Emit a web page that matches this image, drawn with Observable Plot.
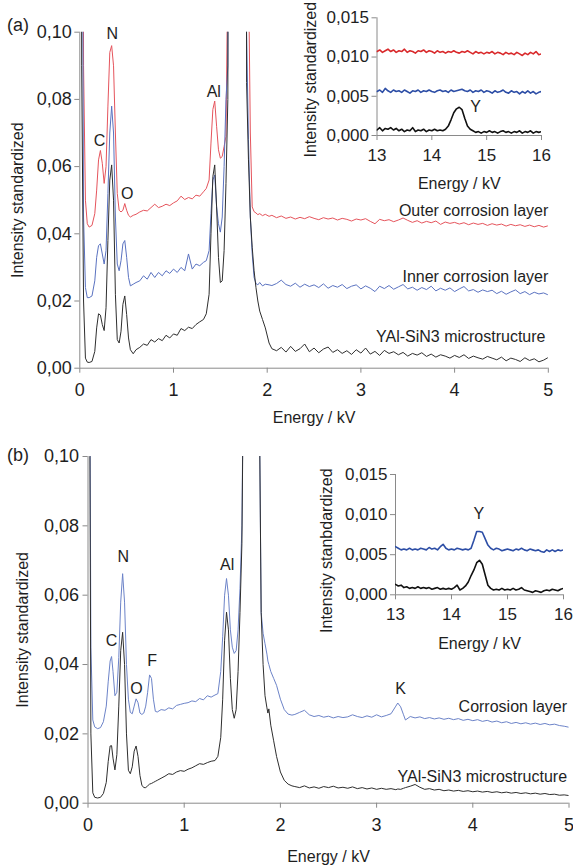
<!DOCTYPE html>
<html><head><meta charset="utf-8">
<script src="https://cdn.jsdelivr.net/npm/d3@7"></script>
<script src="https://cdn.jsdelivr.net/npm/@observablehq/plot@0.6"></script>
<style>
body{margin:0;background:#fff;}
#wrap{position:relative;width:573px;height:865px;overflow:hidden;background:#fff;}
</style></head><body><div id="wrap"></div>
<script>
// ---------- Panel (a) main spectrum ----------
const energyA = [0.00,0.02,0.04,0.06,0.08,0.10,0.13,0.16,0.18,0.20,0.22,0.24,0.26,0.28,0.30,0.32,0.34,0.36,0.38,0.40,0.42,0.44,0.46,0.48,0.50,0.52,0.54,0.57,0.60,0.64,0.68,0.72,0.76,0.80,0.84,0.88,0.92,0.96,1.00,1.04,1.08,1.12,1.16,1.20,1.24,1.28,1.32,1.35,1.38,1.40,1.42,1.44,1.46,1.48,1.50,1.52,1.54,1.56,1.58,1.60,1.68,1.76,1.78,1.80,1.82,1.84,1.86,1.88,1.90,1.92,1.95,1.98,2.02,
2.05,2.10,2.15,2.20,2.25,2.30,2.35,2.40,2.45,2.50,2.55,2.60,2.65,2.70,2.75,2.80,2.85,2.90,2.95,3.00,3.05,3.10,3.15,3.20,3.25,3.30,3.35,3.40,3.45,3.50,3.55,3.60,3.65,3.70,3.75,3.80,3.85,3.90,3.95,4.00,4.05,4.10,4.15,4.20,4.25,4.30,4.35,4.40,4.45,4.50,4.55,4.60,4.65,4.70,4.75,4.80,4.85,4.90,4.95,5.00];

const outerA = [0.5,0.5,0.09,0.05,0.043,0.042,0.0425,0.046,0.053,0.062,0.0648,0.061,0.055,0.06,0.078,0.094,0.096,0.09,0.07,0.052,0.047,0.0465,0.047,0.049,0.047,0.0455,0.045,0.0455,0.0458,0.0465,0.047,0.0468,0.0478,0.0488,0.0478,0.0482,0.0488,0.0484,0.0492,0.0498,0.0512,0.0502,0.0508,0.0504,0.0515,0.0512,0.0525,0.0535,0.056,0.067,0.077,0.0795,0.072,0.065,0.0625,0.063,0.066,0.069,0.12,0.5,0.5,0.5,0.3,0.12,0.07,0.048,0.0466,0.0462,0.0457,0.046,0.0454,0.0458,0.0452,
0.0455,0.0448,0.0453,0.0446,0.0450,0.0444,0.0449,0.0445,0.0451,0.0446,0.0442,0.0448,0.0444,0.0447,0.0441,0.0446,0.0443,0.0438,0.0444,0.0441,0.0445,0.0437,0.0430,0.0443,0.0439,0.0442,0.0436,0.0441,0.0447,0.0440,0.0434,0.0439,0.0432,0.0437,0.0433,0.0438,0.0428,0.0435,0.0431,0.0434,0.0429,0.0433,0.0427,0.0432,0.0428,0.0431,0.0425,0.0430,0.0426,0.0429,0.0423,0.0428,0.0424,0.0427,0.0422,0.0426,0.0421,0.0425,0.0420,0.0424];

const innerA = [0.5,0.2,0.045,0.024,0.021,0.021,0.0215,0.026,0.033,0.0365,0.037,0.034,0.031,0.035,0.052,0.07,0.078,0.07,0.045,0.031,0.029,0.032,0.037,0.038,0.033,0.027,0.0245,0.025,0.0255,0.026,0.0275,0.0265,0.0285,0.027,0.0285,0.0275,0.029,0.0282,0.0295,0.0285,0.03,0.029,0.034,0.0295,0.031,0.0305,0.0315,0.032,0.035,0.046,0.056,0.0575,0.048,0.043,0.0405,0.045,0.06,0.08,0.09,0.5,0.5,0.5,0.1,0.068,0.045,0.034,0.027,0.0252,0.0248,0.0255,0.0245,0.025,0.0248,
0.0246,0.0252,0.0262,0.0249,0.0244,0.0253,0.0241,0.0250,0.0243,0.0248,0.0240,0.0251,0.0238,0.0246,0.0241,0.0249,0.0237,0.0244,0.0248,0.0236,0.0245,0.0238,0.0228,0.0244,0.0237,0.0246,0.0235,0.0242,0.0249,0.0236,0.0241,0.0232,0.0240,0.0234,0.0244,0.0230,0.0238,0.0232,0.0239,0.0228,0.0236,0.0243,0.0230,0.0234,0.0226,0.0233,0.0228,0.0232,0.0222,0.0229,0.0220,0.0227,0.0233,0.0222,0.0228,0.0219,0.0226,0.0221,0.0224,0.0218];

const bulkA = [0.5,0.09,0.02,0.003,0.0018,0.0017,0.002,0.005,0.012,0.0162,0.0158,0.013,0.0112,0.018,0.038,0.056,0.0605,0.05,0.022,0.0085,0.0075,0.011,0.019,0.0215,0.016,0.009,0.0055,0.0043,0.0055,0.0062,0.0072,0.0068,0.0085,0.0078,0.0088,0.0082,0.0098,0.009,0.0102,0.0098,0.0118,0.0112,0.0122,0.0118,0.013,0.0138,0.0145,0.0162,0.022,0.04,0.057,0.0605,0.048,0.033,0.0255,0.026,0.035,0.055,0.08,0.5,0.5,0.5,0.085,0.062,0.045,0.036,0.029,0.024,0.02,0.017,0.0145,0.012,0.0075,
0.0058,0.0052,0.0062,0.0048,0.0065,0.0050,0.0058,0.0072,0.0049,0.0060,0.0046,0.0057,0.0063,0.0047,0.0055,0.0044,0.0052,0.0041,0.0055,0.0045,0.0060,0.0042,0.0050,0.0038,0.0053,0.0044,0.0049,0.0040,0.0047,0.0036,0.0044,0.0039,0.0046,0.0035,0.0042,0.0033,0.0040,0.0036,0.0030,0.0038,0.0032,0.0040,0.0029,0.0036,0.0031,0.0027,0.0035,0.0030,0.0025,0.0033,0.0022,0.0030,0.0026,0.0020,0.0031,0.0023,0.0028,0.0019,0.0024,0.0032];

const elementsA = ["C","N","O","Al"];
const elementEnergyA = [0.21,0.346,0.505,1.43];
const elementIntensityA = [0.0678,0.0996,0.0519,0.0821];
const namesA = ["Outer corrosion layer","Inner corrosion layer","YAl-SiN3 microstructure"];
const nameEnergyA = [5.0,5.0,4.97];
const nameIntensityA = [0.0469,0.0271,0.0092];

// ---------- Insets (13–16 kV) ----------
const insetEnergy = [13.00,13.05,13.10,13.15,13.20,13.25,13.30,13.35,13.40,13.45,13.50,13.55,13.60,13.65,13.70,13.75,13.80,13.85,13.90,13.95,14.00,14.05,14.10,14.15,14.20,14.25,14.30,14.35,14.40,14.45,14.50,14.55,14.60,14.65,14.70,14.75,14.80,14.85,14.90,14.95,15.00,15.05,15.10,15.15,15.20,15.25,15.30,15.35,15.40,15.45,15.50,15.55,15.60,15.65,15.70,15.75,15.80,15.85,15.90,15.95,16.00];

const outerInsetA = [0.0107,0.0109,0.0106,0.0108,0.0110,0.0107,0.0109,0.0106,0.0108,0.0107,0.0110,0.0106,0.0108,0.0107,0.0105,0.0108,0.0107,0.0109,0.0106,0.0108,0.0107,0.0105,0.0108,0.0106,0.0107,0.0105,0.0107,0.0106,0.0108,0.0106,0.0105,0.0107,0.0106,0.0108,0.0106,0.0104,0.0107,0.0105,0.0106,0.0104,0.0106,0.0105,0.0107,0.0104,0.0106,0.0105,0.0103,0.0106,0.0104,0.0105,0.0103,0.0106,0.0104,0.0102,0.0105,0.0103,0.0106,0.0104,0.0107,0.0103,0.0104];
const innerInsetA = [0.0056,0.0058,0.0055,0.0060,0.0057,0.0055,0.0058,0.0056,0.0057,0.0055,0.0058,0.0056,0.0054,0.0057,0.0056,0.0058,0.0055,0.0057,0.0056,0.0058,0.0056,0.0055,0.0057,0.0058,0.0056,0.0057,0.0055,0.0058,0.0056,0.0057,0.0058,0.0059,0.0057,0.0056,0.0058,0.0055,0.0057,0.0056,0.0058,0.0055,0.0057,0.0056,0.0054,0.0057,0.0055,0.0056,0.0058,0.0055,0.0054,0.0057,0.0055,0.0056,0.0053,0.0056,0.0054,0.0057,0.0054,0.0056,0.0053,0.0055,0.0056];
const bulkInsetA = [0.0007,0.0010,0.0006,0.0009,0.0008,0.0010,0.0007,0.0009,0.0006,0.0008,0.0005,0.0007,0.0006,0.0010,0.0005,0.0007,0.0006,0.0008,0.0005,0.0007,0.0006,0.0008,0.0006,0.0007,0.0006,0.0008,0.0012,0.0020,0.0029,0.0034,0.0036,0.0033,0.0022,0.0012,0.0008,0.0006,0.0004,0.0005,0.0003,0.0005,0.0004,0.0006,0.0004,0.0005,0.0003,0.0005,0.0006,0.0004,0.0005,0.0003,0.0005,0.0004,0.0006,0.0003,0.0005,0.0004,0.0006,0.0003,0.0005,0.0004,0.0005];

const corrInsetB = [0.0060,0.0058,0.0056,0.0057,0.0056,0.0058,0.0056,0.0057,0.0056,0.0058,0.0057,0.0056,0.0059,0.0057,0.0058,0.0056,0.0060,0.0063,0.0058,0.0056,0.0057,0.0056,0.0058,0.0057,0.0056,0.0057,0.0056,0.0058,0.0068,0.0079,0.0079,0.0078,0.0070,0.0062,0.0058,0.0056,0.0058,0.0057,0.0055,0.0056,0.0057,0.0056,0.0055,0.0057,0.0056,0.0058,0.0056,0.0055,0.0057,0.0056,0.0055,0.0056,0.0054,0.0053,0.0056,0.0054,0.0056,0.0054,0.0056,0.0055,0.0056];
const bulkInsetB = [0.0013,0.0011,0.0012,0.0009,0.0010,0.0008,0.0009,0.0008,0.0010,0.0008,0.0009,0.0008,0.0009,0.0007,0.0008,0.0009,0.0007,0.0008,0.0007,0.0008,0.0007,0.0009,0.0012,0.0006,0.0008,0.0011,0.0016,0.0024,0.0031,0.0040,0.0043,0.0038,0.0025,0.0012,0.0008,0.0006,0.0007,0.0006,0.0008,0.0006,0.0007,0.0006,0.0008,0.0006,0.0007,0.0009,0.0006,0.0005,0.0004,0.0003,0.0005,0.0004,0.0003,0.0005,0.0006,0.0005,0.0007,0.0006,0.0005,0.0007,0.0008];

// ---------- Panel (b) main spectrum ----------
const energyB = [0.00,0.02,0.03,0.05,0.07,0.10,0.13,0.16,0.19,0.21,0.23,0.245,0.26,0.28,0.30,0.32,0.34,0.36,0.38,0.40,0.42,0.44,0.46,0.48,0.50,0.52,0.54,0.56,0.58,0.60,0.62,0.64,0.66,0.68,0.70,0.72,0.76,0.80,0.84,0.88,0.92,0.96,1.00,1.04,1.08,1.12,1.16,1.20,1.24,1.28,1.32,1.35,1.38,1.40,1.42,1.44,1.46,1.48,1.50,1.52,1.54,1.56,1.58,1.60,1.62,1.70,1.78,1.80,1.82,1.84,1.86,1.87,1.88,1.90,1.93,1.96,2.00,2.04,2.08,2.12,
2.15,2.20,2.25,2.30,2.35,2.40,2.45,2.50,2.55,2.60,2.65,2.70,2.75,2.80,2.85,2.90,2.95,3.00,3.05,3.10,3.15,3.20,3.22,3.25,3.28,3.30,3.35,3.40,3.45,3.50,3.55,3.60,3.65,3.70,3.75,3.80,3.85,3.90,3.95,4.00,4.05,4.10,4.15,4.20,4.25,4.30,4.35,4.40,4.45,4.50,4.55,4.60,4.65,4.70,4.75,4.80,4.85,4.90,4.95,5.00];

const corrB = [0.5,0.12,0.045,0.024,0.022,0.0215,0.0218,0.0235,0.028,0.035,0.041,0.0423,0.038,0.031,0.032,0.042,0.058,0.0662,0.058,0.04,0.03,0.0262,0.0258,0.028,0.0301,0.029,0.026,0.0256,0.026,0.028,0.032,0.037,0.036,0.03,0.0265,0.0263,0.027,0.0268,0.0275,0.0272,0.0282,0.0285,0.0288,0.029,0.0295,0.0293,0.0302,0.0298,0.031,0.0306,0.0312,0.0316,0.038,0.048,0.06,0.0648,0.06,0.05,0.045,0.0432,0.044,0.05,0.062,0.08,0.14,0.5,0.12,0.055,0.049,0.046,0.043,0.041,0.04,0.038,0.036,0.034,0.03,0.027,0.0257,0.0254,
0.0256,0.0262,0.0268,0.0255,0.0250,0.0253,0.0248,0.0251,0.0246,0.0250,0.0247,0.0249,0.0255,0.0250,0.0247,0.0252,0.0248,0.0255,0.0249,0.0253,0.0258,0.0280,0.0289,0.0278,0.0255,0.0240,0.0250,0.0246,0.0249,0.0244,0.0247,0.0243,0.0246,0.0242,0.0245,0.0241,0.0244,0.0239,0.0242,0.0238,0.0241,0.0236,0.0239,0.0234,0.0237,0.0232,0.0235,0.0230,0.0233,0.0229,0.0232,0.0228,0.0231,0.0227,0.0230,0.0226,0.0228,0.0224,0.0222,0.0219];

const bulkB = [0.5,0.1,0.02,0.003,0.0017,0.0015,0.0017,0.0028,0.006,0.012,0.0165,0.0166,0.013,0.0096,0.014,0.028,0.044,0.0493,0.04,0.02,0.0095,0.0085,0.0105,0.015,0.0165,0.0135,0.008,0.0052,0.0045,0.0045,0.005,0.0055,0.0057,0.006,0.0063,0.0066,0.0072,0.0078,0.0085,0.0083,0.009,0.0094,0.0092,0.0098,0.0102,0.0108,0.0114,0.0112,0.0117,0.0121,0.0123,0.0135,0.019,0.03,0.047,0.0551,0.05,0.036,0.027,0.0245,0.027,0.038,0.055,0.075,0.14,0.5,0.12,0.055,0.04,0.031,0.0275,0.026,0.0272,0.0225,0.018,0.0135,0.009,0.0066,0.0055,0.005,
0.0048,0.0045,0.0050,0.0044,0.0047,0.0043,0.0048,0.0045,0.0049,0.0044,0.0046,0.0043,0.0047,0.0042,0.0045,0.0041,0.0044,0.0040,0.0043,0.0040,0.0042,0.0039,0.0041,0.0040,0.0043,0.0045,0.0049,0.0054,0.0046,0.0040,0.0042,0.0038,0.0040,0.0036,0.0038,0.0035,0.0037,0.0034,0.0036,0.0033,0.0035,0.0032,0.0034,0.0031,0.0033,0.0030,0.0032,0.0029,0.0031,0.0028,0.0030,0.0027,0.0029,0.0026,0.0028,0.0025,0.0026,0.0023,0.0024,0.0022];

const elementsB = ["C","N","O","F","Al","K"];
const elementEnergyB = [0.244,0.366,0.504,0.668,1.447,3.249];
const elementIntensityB = [0.0468,0.0710,0.0330,0.0410,0.0686,0.0330];
const namesB = ["Corrosion layer","YAl-SiN3 microstructure"];
const nameEnergyB = [4.98,4.98];
const nameIntensityB = [0.0277,0.0077];

// ---------- ticks ----------
const mainXTicks = [0,1,2,3,4,5];
const mainYTicks = [0,0.02,0.04,0.06,0.08,0.10];
const insetXTicks = [13,14,15,16];
const insetYTicks = [0,0.005,0.010,0.015];

// ---------- drawing ----------
const FONT = "'Liberation Sans', Arial, Helvetica, sans-serif";
const AXIS = "#8a8a8a", INK = "#1e1e1e";
const wrap = document.getElementById("wrap");

function rows(energy, values, name) {
  if (energy.length !== values.length) throw new Error(name + ": " + values.length + " values vs " + energy.length + " energies");
  return energy.map((e, i) => ({energy: e, intensity: values[i]}));
}
function pts(labels, es, is) { return labels.map((t, i) => ({t, energy: es[i], intensity: is[i]})); }
const comma = (n) => (d) => d.toFixed(n).replace(".", ",");

function place(svg, left, top) {
  svg.style.position = "absolute";
  svg.style.left = left + "px";
  svg.style.top = top + "px";
  svg.style.background = "transparent";
  svg.style.overflow = "visible";
  svg.style.maxWidth = "none";
  wrap.append(svg);
}

function axes(o) {
  return [
    Plot.ruleX([o.x0], {stroke: AXIS, strokeWidth: 1}),
    Plot.ruleY([0], {stroke: AXIS, strokeWidth: 1}),
    Plot.axisX({ticks: o.xt, tickFormat: d => String(d), tickSize: 5, tickPadding: o.xPad, stroke: AXIS, fill: INK, fontSize: o.fs, label: null}),
    Plot.axisY({ticks: o.yt, tickFormat: comma(o.dig), tickSize: 5, tickPadding: o.yPad, stroke: AXIS, fill: INK, fontSize: o.fs, label: null}),
    Plot.text([o.xTitle], {frameAnchor: "bottom", text: d => d, dy: o.xDy, lineAnchor: "middle", fontSize: 16, fill: INK}),
    Plot.text([o.yTitle], {frameAnchor: "left", text: d => d, rotate: -90, dx: o.yDx, dy: o.yDy || 0, lineAnchor: "middle", textAnchor: "middle", fontSize: 16, fill: INK})
  ];
}

// Panel (a) main
place(Plot.plot({
  width: 573, height: 430,
  marginLeft: 79.3, marginRight: 25.2, marginTop: 31.7, marginBottom: 62.3,
  x: {domain: [0, 5]}, y: {domain: [0, 0.1]},
  style: {fontFamily: FONT, fontSize: "17px", color: INK},
  marks: [
    ...axes({x0: 0, xt: mainXTicks, yt: mainYTicks, dig: 2, fs: 18, xPad: 10, yPad: 3, xTitle: "Energy / kV", xDy: 50, yTitle: "Intensity standardized", yDx: 17.5 - 79.3}),
    Plot.line(rows(energyA, outerA, "outerA"), {x: "energy", y: "intensity", stroke: "#e5545c", strokeWidth: 1, clip: true}),
    Plot.line(rows(energyA, innerA, "innerA"), {x: "energy", y: "intensity", stroke: "#5a72c0", strokeWidth: 1, clip: true}),
    Plot.line(rows(energyA, bulkA, "bulkA"), {x: "energy", y: "intensity", stroke: "#2e2e2e", strokeWidth: 1, clip: true}),
    Plot.text(pts(elementsA, elementEnergyA, elementIntensityA), {x: "energy", y: "intensity", text: "t", fontSize: 16, fill: INK}),
    Plot.text(pts(namesA, nameEnergyA, nameIntensityA), {x: "energy", y: "intensity", text: "t", textAnchor: "end", fontSize: 16, fill: INK}),
    Plot.text(["(a)"], {frameAnchor: "top-left", text: d => d, dx: 17.5 - 79.3, dy: 25 - 31.7, textAnchor: "middle", lineAnchor: "middle", fontSize: 18, fill: INK})
  ]
}), 0, 0);

// Panel (a) inset
place(Plot.plot({
  width: 283, height: 200,
  marginLeft: 86.5, marginRight: 32, marginTop: 17.3, marginBottom: 65,
  x: {domain: [13, 16]}, y: {domain: [0, 0.015]},
  style: {fontFamily: FONT, fontSize: "17px", color: INK},
  marks: [
    ...axes({x0: 13, xt: insetXTicks, yt: insetYTicks, dig: 3, fs: 17, xPad: 8, yPad: 3, xTitle: "Energy / kV", xDy: 48, yTitle: "Intensity standardized", yDx: 20 - 86.5, yDy: 3}),
    Plot.line(rows(insetEnergy, outerInsetA, "outerInsetA"), {x: "energy", y: "intensity", stroke: "#d9292b", strokeWidth: 1.6, clip: true}),
    Plot.line(rows(insetEnergy, innerInsetA, "innerInsetA"), {x: "energy", y: "intensity", stroke: "#2d4ea6", strokeWidth: 1.6, clip: true}),
    Plot.line(rows(insetEnergy, bulkInsetA, "bulkInsetA"), {x: "energy", y: "intensity", stroke: "#111", strokeWidth: 1.6, clip: true}),
    Plot.text(pts(["Y"], [14.8], [0.0036]), {x: "energy", y: "intensity", text: "t", fontSize: 16, fill: INK})
  ]
}), 290, 0);

// Panel (b) main
place(Plot.plot({
  width: 573, height: 435,
  marginLeft: 87.5, marginRight: 4.5, marginTop: 26, marginBottom: 62.3,
  x: {domain: [0, 5]}, y: {domain: [0, 0.1]},
  style: {fontFamily: FONT, fontSize: "17px", color: INK},
  marks: [
    ...axes({x0: 0, xt: mainXTicks, yt: mainYTicks, dig: 2, fs: 18, xPad: 10, yPad: 4, xTitle: "Energy / kV", xDy: 53.5, yTitle: "Intensity standardized", yDx: 22.5 - 87.5}),
    Plot.line(rows(energyB, corrB, "corrB"), {x: "energy", y: "intensity", stroke: "#6c83c8", strokeWidth: 1, clip: true}),
    Plot.line(rows(energyB, bulkB, "bulkB"), {x: "energy", y: "intensity", stroke: "#2e2e2e", strokeWidth: 1, clip: true}),
    Plot.text(pts(elementsB, elementEnergyB, elementIntensityB), {x: "energy", y: "intensity", text: "t", fontSize: 16, fill: INK}),
    Plot.text(pts(namesB, nameEnergyB, nameIntensityB), {x: "energy", y: "intensity", text: "t", textAnchor: "end", fontSize: 16, fill: INK}),
    Plot.text(["(b)"], {frameAnchor: "top-left", text: d => d, dx: 17.5 - 87.5, dy: 25 - 26, textAnchor: "middle", lineAnchor: "middle", fontSize: 18, fill: INK})
  ]
}), 0, 430);

// Panel (b) inset
place(Plot.plot({
  width: 273, height: 200,
  marginLeft: 95, marginRight: 10, marginTop: 14, marginBottom: 65.7,
  x: {domain: [13, 16]}, y: {domain: [0, 0.015]},
  style: {fontFamily: FONT, fontSize: "17px", color: INK},
  marks: [
    ...axes({x0: 13, xt: insetXTicks, yt: insetYTicks, dig: 3, fs: 17, xPad: 8, yPad: 3, xTitle: "Energy / kV", xDy: 48.7, yTitle: "Intensity stanbdardized", yDx: 26 - 95, yDy: 16}),
    Plot.line(rows(insetEnergy, corrInsetB, "corrInsetB"), {x: "energy", y: "intensity", stroke: "#2d4ea6", strokeWidth: 1.6, clip: true}),
    Plot.line(rows(insetEnergy, bulkInsetB, "bulkInsetB"), {x: "energy", y: "intensity", stroke: "#111", strokeWidth: 1.6, clip: true}),
    Plot.text(pts(["Y"], [14.49], [0.0101]), {x: "energy", y: "intensity", text: "t", fontSize: 16, fill: INK})
  ]
}), 300, 460);
</script></body></html>
